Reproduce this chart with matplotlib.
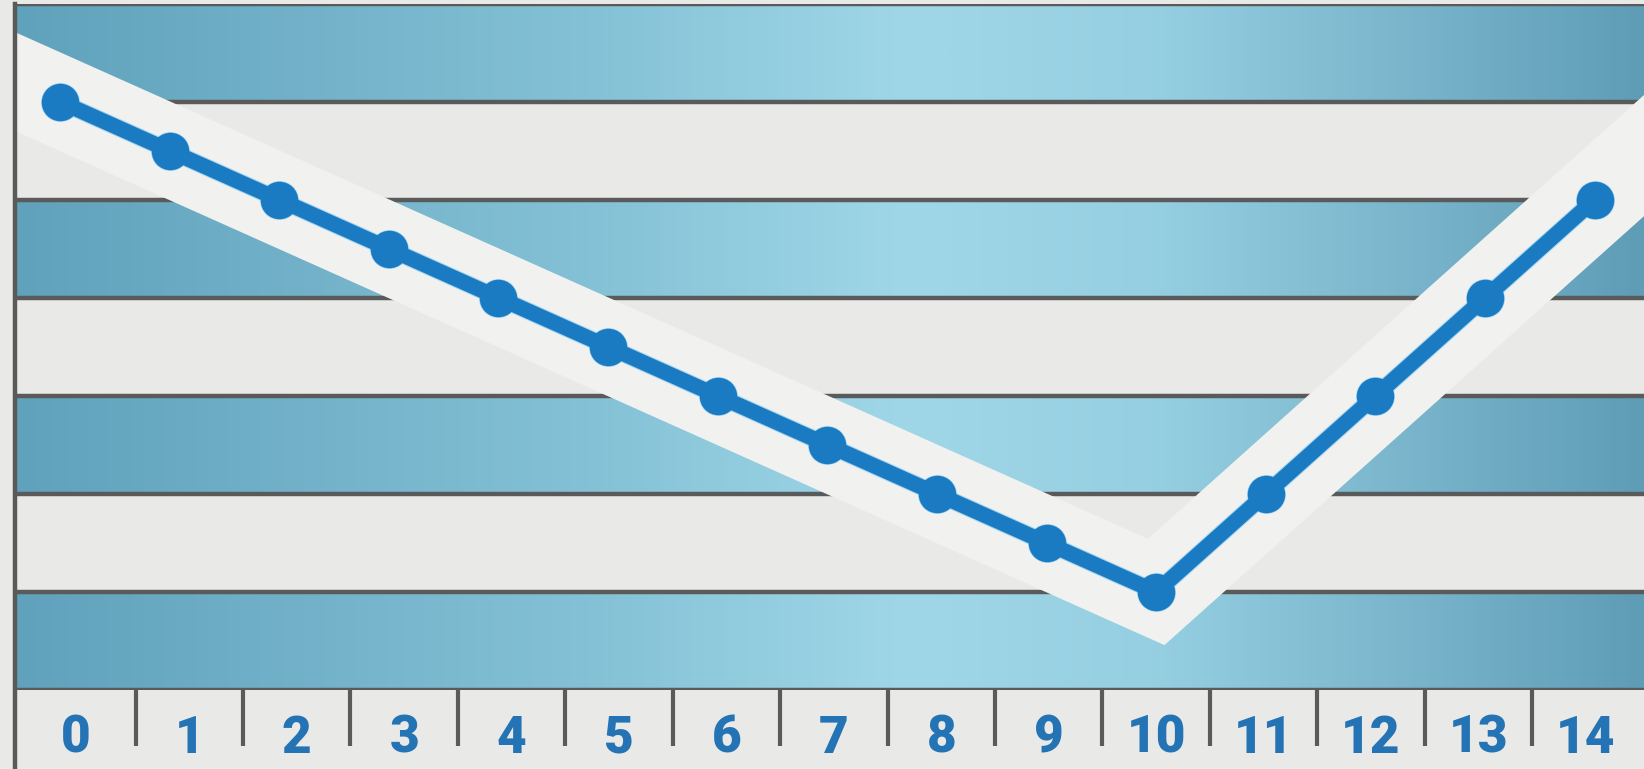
import numpy as np
import matplotlib
matplotlib.use("Agg")
from matplotlib import pyplot as plt
from matplotlib.colors import LinearSegmentedColormap

# data
x_vals = list(range(15))
y_vals = [6, 5.5, 5, 4.5, 4, 3.5, 3, 2.5, 2, 1.5, 1, 2, 3, 4, 5]
tick_labels = [str(i) for i in range(15)]

# alternating stripes behind the line (lower, upper)
blue_bands = [(0, 1), (2, 3), (4, 5), (6, 7)]
grid_levels = [0, 1, 2, 3, 4, 5, 6, 7]

bg_gray = "#e9e9e8"
line_blue = "#1a7bc3"
halo_blue = "#a6d6f0"
rule_gray = "#5a5a5a"
label_blue = "#2474b5"

fig = plt.figure(figsize=(16.44, 7.69), dpi=100, facecolor=bg_gray)
ax = fig.add_axes([15 / 1644, 1 - 690 / 769, 1 - 15 / 1644, (690 - 3.6) / 769])
ax.set_facecolor(bg_gray)
x0, x1 = -0.41, 14.45
ax.set_xlim(x0, x1)
ax.set_ylim(0, 7)

# blue stripes with a horizontal light/dark gradient
band_cmap = LinearSegmentedColormap.from_list(
    "band", [(0, "#60a2bc"), (0.35, "#84c1d6"), (0.55, "#a0d7e8"),
             (0.7, "#96cfe2"), (1, "#5f9db7")])
grad = np.linspace(0, 1, 256).reshape(1, -1)
for lo, hi in blue_bands:
    ax.imshow(grad, cmap=band_cmap, aspect="auto", extent=(x0, x1, lo, hi),
              zorder=0, interpolation="bicubic")

for lv in grid_levels:
    ax.axhline(lv, color=rule_gray, lw=3.2, zorder=1)

# wide pale ribbon under the line, carried on past both ends to the frame
slope_l = y_vals[1] - y_vals[0]
slope_r = y_vals[-1] - y_vals[-2]
rib_x = [x_vals[0] - 2] + x_vals + [x_vals[-1] + 2]
rib_y = [y_vals[0] - 2 * slope_l] + y_vals + [y_vals[-1] + 2 * slope_r]
ax.plot(rib_x, rib_y, color="#f1f1f0", lw=65, solid_joinstyle="miter",
        solid_capstyle="projecting", zorder=2)

# light halo then the line itself
ax.plot(x_vals, y_vals, color=halo_blue, lw=12.5, marker="o", ms=28,
        markeredgewidth=0, solid_capstyle="round", zorder=3)
ax.plot(x_vals, y_vals, color=line_blue, lw=11, marker="o", ms=27,
        markeredgewidth=0, solid_capstyle="round", zorder=4)

# left rule running down to the bottom of the figure
ax.plot([x0, x0], [-0.8, 7], color=rule_gray, lw=3.2, clip_on=False, zorder=5)

for s in ax.spines.values():
    s.set_visible(False)
ax.set_yticks([])

# tick marks between labels, labels centred in each cell
tick_marks = [0.69 + 0.98 * k for k in range(14)]
label_pos = [(x0 + tick_marks[0]) / 2] + [0.2 + 0.98 * k for k in range(1, 15)]
ax.set_xticks(label_pos)
ax.set_xticklabels(tick_labels, fontsize=37, fontweight="black",
                   family=["Roboto", "DejaVu Sans"], color=label_blue)
ax.set_xticks(tick_marks, minor=True)
ax.tick_params(axis="x", which="major", length=0, pad=17)
ax.tick_params(axis="x", which="minor", length=40, width=3, color=rule_gray,
               direction="out")

fig.savefig("out.png", dpi=100, facecolor=bg_gray)
